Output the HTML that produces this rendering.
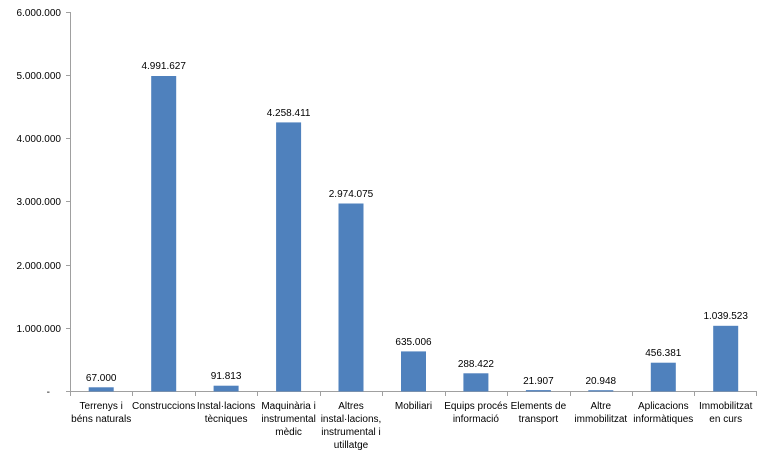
<!DOCTYPE html>
<html><head><meta charset="utf-8"><style>
body{margin:0;background:#fff}
svg{display:block}
text{font-family:"Liberation Sans",sans-serif;font-size:10px;fill:#000}
</style></head><body>
<svg width="768" height="458" viewBox="0 0 768 458">
<g stroke="#a0a0a0" stroke-width="1">
<line x1="70.5" y1="12" x2="70.5" y2="392"/>
<line x1="66" y1="12.5" x2="70.5" y2="12.5"/>
<line x1="66" y1="75.5" x2="70.5" y2="75.5"/>
<line x1="66" y1="138.5" x2="70.5" y2="138.5"/>
<line x1="66" y1="201.5" x2="70.5" y2="201.5"/>
<line x1="66" y1="265.5" x2="70.5" y2="265.5"/>
<line x1="66" y1="328.5" x2="70.5" y2="328.5"/>
<line x1="66" y1="391.5" x2="757" y2="391.5"/>
<g>
<line x1="70.5" y1="391" x2="70.5" y2="396"/>
<line x1="132.5" y1="391" x2="132.5" y2="396"/>
<line x1="195.5" y1="391" x2="195.5" y2="396"/>
<line x1="257.5" y1="391" x2="257.5" y2="396"/>
<line x1="320.5" y1="391" x2="320.5" y2="396"/>
<line x1="382.5" y1="391" x2="382.5" y2="396"/>
<line x1="445.5" y1="391" x2="445.5" y2="396"/>
<line x1="507.5" y1="391" x2="507.5" y2="396"/>
<line x1="570.5" y1="391" x2="570.5" y2="396"/>
<line x1="632.5" y1="391" x2="632.5" y2="396"/>
<line x1="694.5" y1="391" x2="694.5" y2="396"/>
<line x1="756.5" y1="391" x2="756.5" y2="396"/>
</g>
</g>
<g text-anchor="end">
<text x="61" y="16">6.000.000</text>
<text x="61" y="79">5.000.000</text>
<text x="61" y="142">4.000.000</text>
<text x="61" y="205">3.000.000</text>
<text x="61" y="269">2.000.000</text>
<text x="61" y="332">1.000.000</text>
<text x="50" y="395">-</text>
</g>
<g fill="#4f81bd">
<rect x="88.7" y="387.3" width="25" height="4.2"/>
<rect x="151.2" y="76" width="25" height="315.5"/>
<rect x="213.6" y="385.7" width="25" height="5.8"/>
<rect x="276.1" y="122.4" width="25" height="269.1"/>
<rect x="338.5" y="203.5" width="25" height="188"/>
<rect x="401" y="351.4" width="25" height="40.1"/>
<rect x="463.4" y="373.3" width="25" height="18.2"/>
<rect x="525.9" y="390.1" width="25" height="1.4"/>
<rect x="588.3" y="390.2" width="25" height="1.3"/>
<rect x="650.8" y="362.7" width="25" height="28.8"/>
<rect x="713.2" y="325.8" width="25" height="65.7"/>
</g>
<g text-anchor="middle">
<text x="101.2" y="381">67.000</text>
<text x="163.7" y="69">4.991.627</text>
<text x="226.1" y="379">91.813</text>
<text x="288.6" y="116">4.258.411</text>
<text x="351" y="197">2.974.075</text>
<text x="413.5" y="345">635.006</text>
<text x="475.9" y="367">288.422</text>
<text x="538.4" y="384">21.907</text>
<text x="600.8" y="384">20.948</text>
<text x="663.3" y="356">456.381</text>
<text x="725.7" y="319">1.039.523</text>
</g>
<g text-anchor="middle">
<text x="101.2" y="409">Terrenys i</text><text x="101.2" y="422">béns naturals</text>
<text x="163.7" y="409">Construccions</text>
<text x="226.1" y="409">Instal·lacions</text><text x="226.1" y="422">tècniques</text>
<text x="288.6" y="409">Maquinària i</text><text x="288.6" y="422">instrumental</text><text x="288.6" y="435">mèdic</text>
<text x="351" y="409">Altres</text><text x="351" y="422">instal·lacions,</text><text x="351" y="435">instrumental i</text><text x="351" y="448">utillatge</text>
<text x="413.5" y="409">Mobiliari</text>
<text x="475.9" y="409">Equips procés</text><text x="475.9" y="422">informació</text>
<text x="538.4" y="409">Elements de</text><text x="538.4" y="422">transport</text>
<text x="600.8" y="409">Altre</text><text x="600.8" y="422">immobilitzat</text>
<text x="663.3" y="409">Aplicacions</text><text x="663.3" y="422">informàtiques</text>
<text x="725.7" y="409">Immobilitzat</text><text x="725.7" y="422">en curs</text>
</g>
</svg>
</body></html>
